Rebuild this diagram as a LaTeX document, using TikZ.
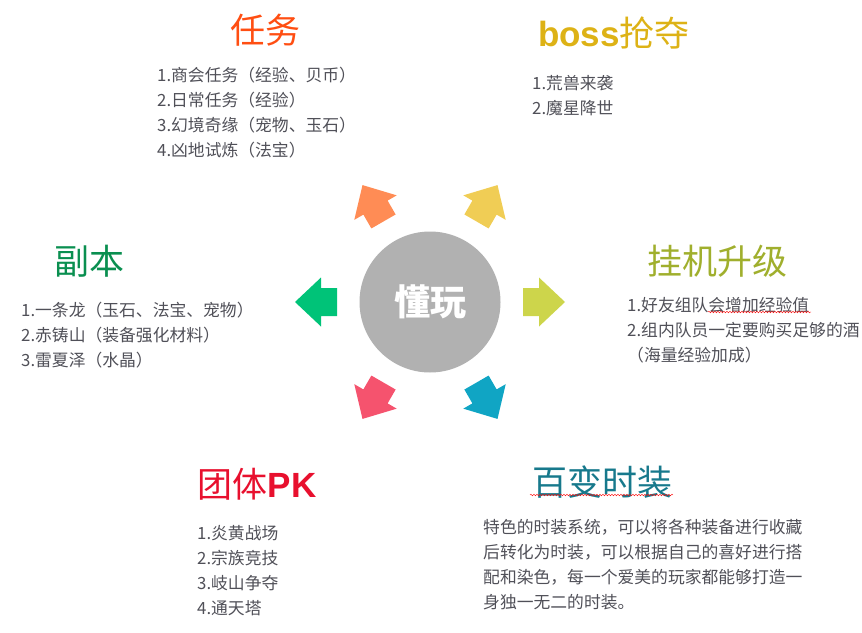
\documentclass[tikz,border=0pt]{standalone}
\usepackage{fontspec}
\newfontfamily\cjk{Noto Sans CJK SC}
\newfontfamily\latinbold{Liberation Sans}
\usetikzlibrary{decorations.pathmorphing}
\definecolor{hubgrey}{HTML}{B1B1B1}
\definecolor{bodygrey}{HTML}{505058}
\definecolor{arrlime}{HTML}{CDD54B}
\definecolor{arryellow}{HTML}{F0CD55}
\definecolor{arrorange}{HTML}{FF8C55}
\definecolor{arrgreen}{HTML}{00C378}
\definecolor{arrpink}{HTML}{F5536E}
\definecolor{arrblue}{HTML}{10A5C4}
\definecolor{taskred}{HTML}{FF4E12}
\definecolor{bossgold}{HTML}{DDB216}
\definecolor{dungreen}{HTML}{0A8F50}
\definecolor{idleolive}{HTML}{A0AF2D}
\definecolor{pkred}{HTML}{E8102E}
\definecolor{fashteal}{HTML}{17798C}
\tikzset{hub/.style={circle,fill=hubgrey,minimum size=141pt,inner sep=0pt,text=white,font=\cjk\bfseries\fontsize{36}{36}\selectfont},heading/.style={inner sep=0pt,font=\cjk\fontsize{35}{40}\selectfont},itemlist/.style={anchor=north west,inner sep=0pt,align=left,text=bodygrey,font=\cjk\fontsize{16.8}{25}\selectfont},squiggle/.style={draw=red,decorate,decoration={snake,amplitude=0.8pt,segment length=3pt}}}

\begin{document}
\begin{tikzpicture}[x=1pt,y=1pt]
\useasboundingbox (0,0) rectangle (862,-632);
\node[hub] (hub) at (430,-302) {懂玩};
% six arrows round the hub
\foreach \ang/\col in {0/arrlime,60/arryellow,120/arrorange,180/arrgreen,240/arrpink,300/arrblue}
  \fill[\col,shift={(hub)},rotate=\ang,xshift=114pt] (-21,-14) -- (-5,-14) -- (-5,-24.5) -- (21,0) -- (-5,24.5) -- (-5,14) -- (-21,14) -- cycle;
\node[heading,text=taskred] (taskT) at (265,-30) {任务};
\node[itemlist] (taskL) at (157,-67) {1.商会任务（经验、贝币）\\2.日常任务（经验）\\3.幻境奇缘（宠物、玉石）\\4.凶地试炼（法宝）};
\node[heading,text=bossgold] (bossT) at (614,-33) {{\latinbold\bfseries boss}抢夺};
\node[itemlist] (bossL) at (532,-75) {1.荒兽来袭\\2.魔星降世};
\node[heading,text=dungreen] (dunT) at (89,-261) {副本};
\node[itemlist] (dunL) at (21,-302) {1.一条龙（玉石、法宝、宠物）\\2.赤铸山（装备强化材料）\\3.雷夏泽（水晶）};
\node[heading,text=idleolive] (idleT) at (717,-261) {挂机升级};
\node[itemlist] (idleL) at (627,-297) {1.好友组队会增加经验值\\2.组内队员一定要购买足够的酒\\（海量经验加成）};
\node[heading,text=pkred] (pkT) at (257,-484) {团体{\latinbold\bfseries PK}};
\node[itemlist] (pkL) at (197,-525) {1.炎黄战场\\2.宗族竞技\\3.岐山争夺\\4.通天塔};
\node[heading,text=fashteal] (fashT) at (602,-482) {百变时装};
\node[itemlist] (fashL) at (483,-519) {特色的时装系统，可以将各种装备进行收藏\\后转化为时装，可以根据自己的喜好进行搭\\配和染色，每一个爱美的玩家都能够打造一\\身独一无二的时装。};
% spell-check marks
\draw[squiggle] (530,-495) -- (673,-495);
\draw[squiggle] (708,-312) -- (811,-312);
\end{tikzpicture}
\end{document}
